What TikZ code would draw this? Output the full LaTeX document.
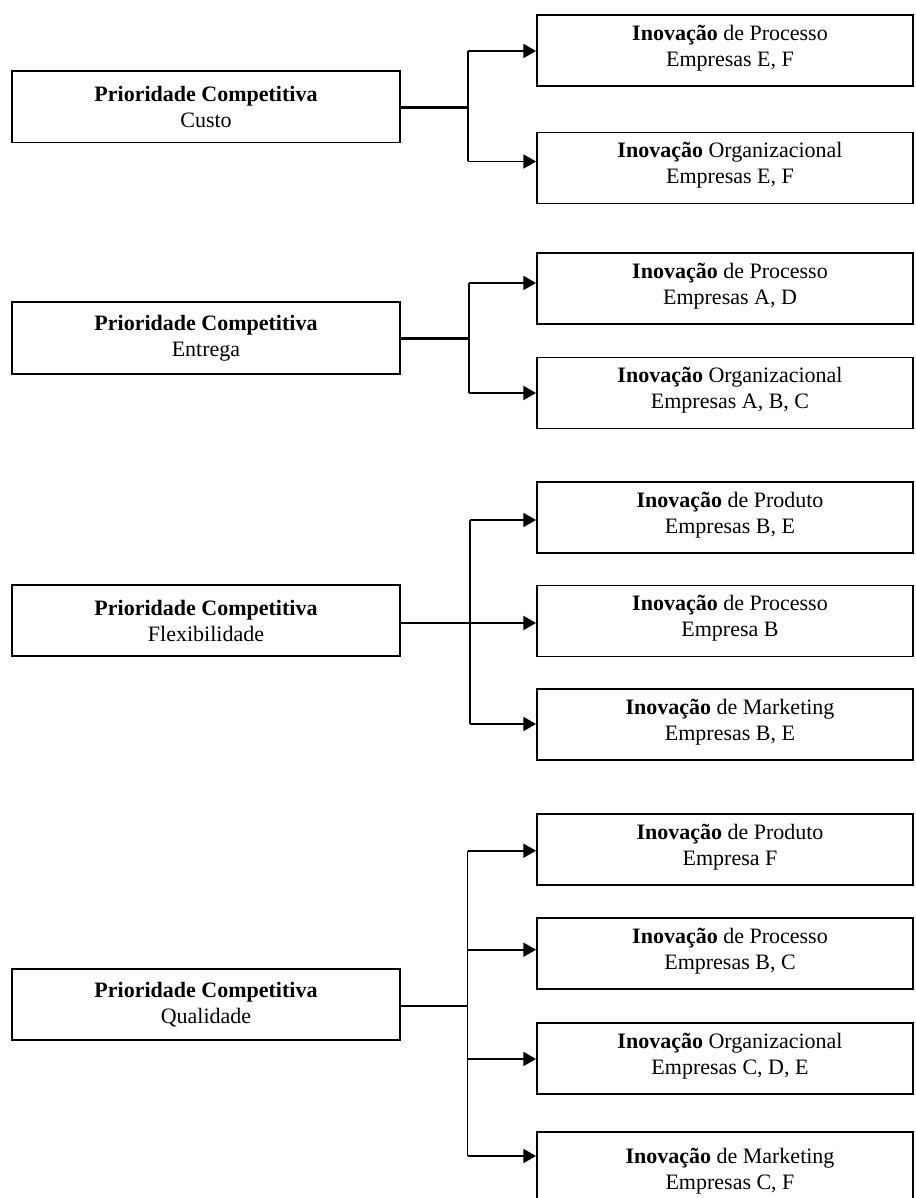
\documentclass[tikz,border=0pt]{standalone}
\usepackage{fontspec}
\setmainfont{Liberation Serif}
\usetikzlibrary{arrows.meta}
\begin{document}
\begin{tikzpicture}[x=0.75pt,y=-0.75pt,
  txt/.style={font=\fontsize{16.5}{19.5}\selectfont, align=center},
  lbox/.style={draw, line width=1.4pt, minimum width=291pt, minimum height=53.6pt, inner sep=0pt, txt},
  rbox/.style={draw, line width=1.4pt, minimum width=282pt, minimum height=53.3pt, inner sep=0pt},
  rtext/.style={txt, inner sep=0pt, xshift=3.75pt, yshift=2pt},
  trunk/.style={line width=1.6pt},
  branch/.style={line width=1.2pt},
  arr/.style={branch, -{Triangle[length=9.5pt,width=10.5pt]}}
]
\useasboundingbox (0,0) rectangle (915,1198);
\clip (0,0) rectangle (915,1198);

% ---------- Custo ----------
\node[lbox] (L1) at (206,106.75) {\textbf{Prioridade Competitiva}\\Custo};
\node[rbox, label={[rtext]center:{\textbf{Inovação} de Processo\\Empresas E, F}}] (R11) at (725,50.75) {};
\node[rbox, label={[rtext]center:{\textbf{Inovação} Organizacional\\Empresas E, F}}] (R12) at (725,168) {};
\coordinate (j1) at (468,107.5);
\coordinate (a11) at (468,51);
\coordinate (a12) at (468,161.5);
\draw[trunk] (L1.east |- j1) -- (j1);
\draw[branch] (a11) -- (a12);
\draw[arr] (a11) -- (R11.west |- a11);
\draw[arr] (a12) -- (R12.west |- a12);

% ---------- Entrega ----------
\node[lbox] (L2) at (206,338) {\textbf{Prioridade Competitiva}\\Entrega};
\node[rbox, label={[rtext]center:{\textbf{Inovação} de Processo\\Empresas A, D}}] (R21) at (725,288.75) {};
\node[rbox, label={[rtext]center:{\textbf{Inovação} Organizacional\\Empresas A, B, C}}] (R22) at (725,393) {};
\coordinate (j2) at (469,338.5);
\coordinate (a21) at (469,283);
\coordinate (a22) at (469,393);
\draw[trunk] (L2.east |- j2) -- (j2);
\draw[branch] (a21) -- (a22);
\draw[arr] (a21) -- (R21.west |- a21);
\draw[arr] (a22) -- (R22.west |- a22);

% ---------- Flexibilidade ----------
\node[lbox] (L3) at (206,620.5) {\textbf{Prioridade Competitiva}\\Flexibilidade};
\node[rbox, label={[rtext]center:{\textbf{Inovação} de Produto\\Empresas B, E}}] (R31) at (725,517.85) {};
\node[rbox, label={[rtext]center:{\textbf{Inovação} de Processo\\Empresa B}}] (R32) at (725,621) {};
\node[rbox, label={[rtext]center:{\textbf{Inovação} de Marketing\\Empresas B, E}}] (R33) at (725,724.5) {};
\coordinate (j3) at (470,623);
\coordinate (a31) at (470,520);
\coordinate (a33) at (470,724);
\draw[trunk] (L3.east |- j3) -- (j3);
\draw[branch] (a31) -- (a33);
\draw[arr] (a31) -- (R31.west |- a31);
\draw[arr] (j3) -- (R32.west |- j3);
\draw[arr] (a33) -- (R33.west |- a33);

% ---------- Qualidade ----------
\node[lbox] (L4) at (206,1004.3) {\textbf{Prioridade Competitiva}\\Qualidade};
\node[rbox, label={[rtext]center:{\textbf{Inovação} de Produto\\Empresa F}}] (R41) at (725,849.7) {};
\node[rbox, label={[rtext]center:{\textbf{Inovação} de Processo\\Empresas B, C}}] (R42) at (725,953.5) {};
\node[rbox, label={[rtext]center:{\textbf{Inovação} Organizacional\\Empresas C, D, E}}] (R43) at (725,1058.5) {};
\node[rbox, minimum height=63.5pt, label={[rtext]center:{\textbf{Inovação} de Marketing\\Empresas C, F}}] (R44) at (725,1174) {};
\coordinate (j4) at (467.5,1006);
\coordinate (a41) at (467.5,850.7);
\coordinate (a42) at (467.5,949.7);
\coordinate (a43) at (467.5,1059);
\coordinate (a44) at (467.5,1156);
\draw[trunk] (L4.east |- j4) -- (j4);
\draw[branch] (a41) -- (a44);
\draw[arr] (a41) -- (R41.west |- a41);
\draw[arr] (a42) -- (R42.west |- a42);
\draw[arr] (a43) -- (R43.west |- a43);
\draw[arr] (a44) -- (R44.west |- a44);
\end{tikzpicture}
\end{document}
